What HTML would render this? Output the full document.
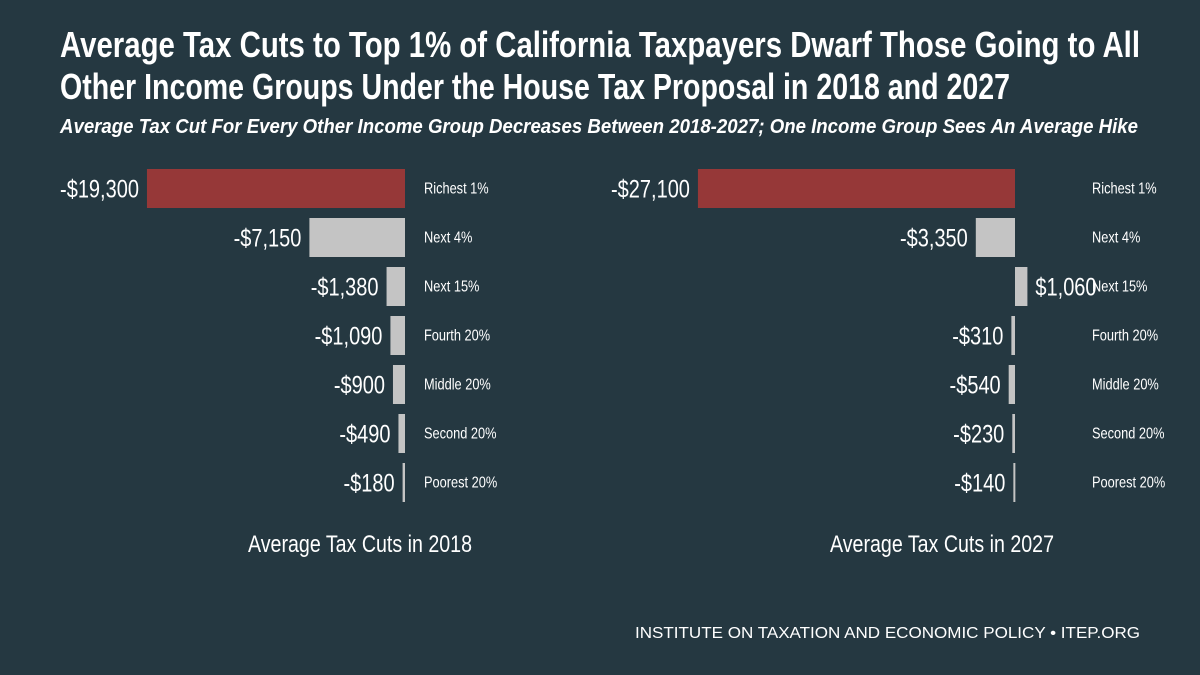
<!DOCTYPE html>
<html><head><meta charset="utf-8"><style>
html,body{margin:0;padding:0;background:#253841;}
svg{display:block;font-family:"Liberation Sans Narrow","Liberation Sans",sans-serif;}
</style></head><body>
<svg width="1200" height="675" viewBox="0 0 1200 675">
<rect width="1200" height="675" fill="#253841"/>
<text x="60" y="57" fill="#fff" font-weight="bold" font-size="36" textLength="1080" lengthAdjust="spacingAndGlyphs">Average Tax Cuts to Top 1% of California Taxpayers Dwarf Those Going to All</text>
<text x="60" y="99" fill="#fff" font-weight="bold" font-size="36" textLength="950" lengthAdjust="spacingAndGlyphs">Other Income Groups Under the House Tax Proposal in 2018 and 2027</text>
<text x="60" y="133" fill="#fff" font-weight="bold" font-style="italic" font-size="20" textLength="1078" lengthAdjust="spacingAndGlyphs">Average Tax Cut For Every Other Income Group Decreases  Between 2018-2027;  One Income Group Sees An Average Hike</text>
<g id="left"></g>
<g id="right"></g>
<text x="360" y="552" fill="#fff" font-size="24" text-anchor="middle" textLength="224" lengthAdjust="spacingAndGlyphs">Average Tax Cuts in 2018</text>
<text x="942" y="552" fill="#fff" font-size="24" text-anchor="middle" textLength="224" lengthAdjust="spacingAndGlyphs">Average Tax Cuts in 2027</text>
<text x="635" y="638" fill="#fff" font-family="Liberation Sans, sans-serif" font-size="16" textLength="505" lengthAdjust="spacingAndGlyphs">INSTITUTE ON TAXATION AND ECONOMIC POLICY • ITEP.ORG</text>
</svg>
<script>
const categories = ["Richest 1%","Next 4%","Next 15%","Fourth 20%","Middle 20%","Second 20%","Poorest 20%"];
const values2018 = [-19300,-7150,-1380,-1090,-900,-490,-180];
const values2027 = [-27100,-3350,1060,-310,-540,-230,-140];
const labels2018 = ["-$19,300","-$7,150","-$1,380","-$1,090","-$900","-$490","-$180"];
const labels2027 = ["-$27,100","-$3,350","$1,060","-$310","-$540","-$230","-$140"];
const NS="http://www.w3.org/2000/svg";
function draw(gid, vals, labs, zero, scale, catX, yr){
  const g=document.getElementById(gid);
  const yTop=169, pitch=49, h=39;
  const x=v=>zero+v*scale;
  vals.forEach((v,i)=>{
    const y=yTop+i*pitch;
    const x0=Math.min(x(v),zero), w=Math.max(Math.abs(x(v)-zero),2);
    const r=document.createElementNS(NS,"rect");
    r.setAttribute("x",x0);r.setAttribute("y",y);r.setAttribute("width",w);r.setAttribute("height",h);
    r.setAttribute("fill",i===0?"#963838":"#c4c4c4");
    
    
    g.appendChild(r);
    const t=document.createElementNS(NS,"text");
    const neg=v<0;
    const lx=neg? x0-8 : x0+w+8;
    t.setAttribute("transform","translate("+lx+","+(y+h/2+9)+") scale(0.8,1)");
    t.setAttribute("text-anchor",neg?"end":"start");
    t.setAttribute("fill","#fff");t.setAttribute("font-size","25");
    t.textContent=labs[i];
    
    
    g.appendChild(t);
    const c=document.createElementNS(NS,"text");
    c.setAttribute("transform","translate("+catX+","+(y+h/2+5)+") scale(0.8,1)");
    c.setAttribute("fill","#fff");c.setAttribute("font-size","16");
    c.textContent=categories[i];
    
    
    g.appendChild(c);
  });
}
draw("left",values2018,labels2018,405,0.01337,424,"2018");
draw("right",values2027,labels2027,1015,0.0117,1092,"2027");
</script>
</body></html>
